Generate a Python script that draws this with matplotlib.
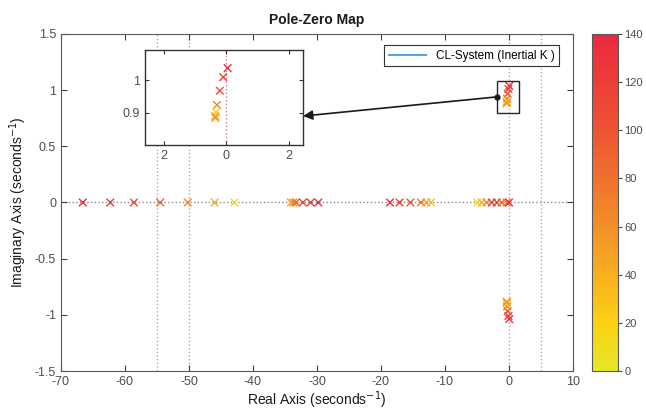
import matplotlib
matplotlib.use("Agg")
import matplotlib.pyplot as plt
from matplotlib.colors import LinearSegmentedColormap
from matplotlib.lines import Line2D
from matplotlib.patches import Rectangle

plt.rcParams["font.family"] = ["Liberation Sans", "DejaVu Sans"]
plt.rcParams["axes.unicode_minus"] = False

# poles on the real axis: real part and colour value
real_re = [-66.6, -62.3, -58.6, -54.5, -50.2, -46.0, -42.9,
           -34.1, -33.7, -33.3, -32.2, -31.0, -29.8,
           -18.6, -17.1, -15.4, -13.75, -12.9, -12.2,
           -4.95, -4.27, -3.5, -2.7, -1.9, -1.15, -0.36, 0.0]
real_val = [135, 125, 105, 85, 65, 40, 10,
            40, 60, 80, 110, 125, 135,
            135, 120, 100, 75, 50, 30,
            10, 40, 60, 110, 125, 80, 70, 135]

# complex pair (upper half, mirrored below)
cplx_re = [0.04, -0.10, -0.21, -0.30, -0.33, -0.36, -0.35]
cplx_im = [1.038, 1.010, 0.968, 0.924, 0.902, 0.890, 0.884]
cplx_val = [135, 120, 100, 70, 15, 45, 55]

grid_x = [-55, -50, 0, 5]
cbar_ticks = [0, 20, 40, 60, 80, 100, 120, 140]

cmap = LinearSegmentedColormap.from_list("ylrd", [
    (0.0, (0.90, 0.90, 0.16)),
    (0.14, (0.99, 0.82, 0.08)),
    (0.43, (0.95, 0.56, 0.16)),
    (0.71, (0.93, 0.33, 0.20)),
    (1.0, (0.92, 0.16, 0.24)),
])
VMIN, VMAX = 0, 140
GREY = "0.25"
PINK = (0.85, 0.45, 0.70)

fig = plt.figure(figsize=(6.46, 4.12), dpi=100)
ax = fig.add_axes([0.0944, 0.0995, 0.7926, 0.818])

for gx in grid_x:
    ax.axvline(gx, color=PINK, ls=":", lw=1.0, alpha=0.8, zorder=1)
ax.axhline(0, color="0.55", ls=":", lw=1.0, zorder=1)

all_re = real_re + cplx_re + cplx_re
all_im = [0] * len(real_re) + cplx_im + [-v for v in cplx_im]
all_val = real_val + cplx_val + cplx_val
sc = ax.scatter(all_re, all_im, c=all_val, cmap=cmap, vmin=VMIN, vmax=VMAX,
                marker="x", s=30, linewidths=1.0, zorder=3)

ax.set_xlim(-70, 10)
ax.set_ylim(-1.5, 1.5)
ax.set_xticks(range(-70, 11, 10))
ax.set_yticks([-1.5, -1, -0.5, 0, 0.5, 1, 1.5])
ax.set_yticklabels(["-1.5", "-1", "-0.5", "0", "0.5", "1", "1.5"])
ax.tick_params(direction="in", top=True, right=True, labelsize=9,
               colors=GREY, labelcolor="0.3", length=4)
for s in ax.spines.values():
    s.set_color("0.35")
ax.set_xlabel(r"Real Axis (seconds$^{-1}$)", fontsize=10, color="0.1", labelpad=1)
ax.set_ylabel(r"Imaginary Axis (seconds$^{-1}$)", fontsize=10, color="0.1")
ax.set_title("Pole-Zero Map", fontsize=10, fontweight="bold", color="0.1", pad=7)

leg = ax.legend([Line2D([], [], color=(0.35, 0.65, 0.88), lw=1.5)],
                ["CL-System (Inertial K )"], loc="upper right",
                bbox_to_anchor=(0.985, 0.985), fontsize=8.5, fancybox=False,
                edgecolor="0.2", framealpha=1, handlelength=3.2)
leg.get_frame().set_linewidth(0.8)

# zoom box around upper complex pair
box_x = (-1.9, 1.6)
box_y = (0.80, 1.08)
ax.add_patch(Rectangle((box_x[0], box_y[0]), box_x[1] - box_x[0],
                       box_y[1] - box_y[0], fill=False, ec="0.15", lw=1.0, zorder=4))

# inset
ins = fig.add_axes([0.2245, 0.648, 0.2446, 0.2306])
ins.axvline(0, color=PINK, ls=":", lw=1.0, zorder=1)
ins.scatter(cplx_re, cplx_im, c=cplx_val, cmap=cmap, vmin=VMIN, vmax=VMAX,
            marker="x", s=30, linewidths=1.0, zorder=3)
ins.set_xlim(-2.6, 2.45)
ins.set_ylim(0.80, 1.094)
ins.set_xticks([-2, 0, 2])
ins.set_xticklabels(["2", "0", "2"])
ins.set_yticks([0.9, 1.0])
ins.set_yticklabels(["0.9", "1"])
ins.tick_params(direction="in", top=True, right=True, labelsize=9,
                colors="0.2", labelcolor="0.3", length=3)
for s in ins.spines.values():
    s.set_color("0.2")
    s.set_linewidth(1.0)

ax.annotate("", xy=(1.0, 0.305), xycoords=ins.transAxes,
            xytext=(box_x[0], (box_y[0] + box_y[1]) / 2), textcoords="data",
            arrowprops=dict(arrowstyle="-|>", color="0.1", lw=1.2,
                            mutation_scale=14, shrinkA=0, shrinkB=0), zorder=5)
ax.plot([box_x[0]], [(box_y[0] + box_y[1]) / 2], "o", color="0.1", ms=3.5, zorder=6)

# colorbar
cax = fig.add_axes([0.917, 0.0995, 0.039, 0.818])
cb = fig.colorbar(sc, cax=cax, ticks=cbar_ticks)
cb.ax.tick_params(labelsize=8, colors="0.3", length=3, pad=2)
cb.outline.set_edgecolor("0.35")

fig.savefig("out.png", dpi=100)
